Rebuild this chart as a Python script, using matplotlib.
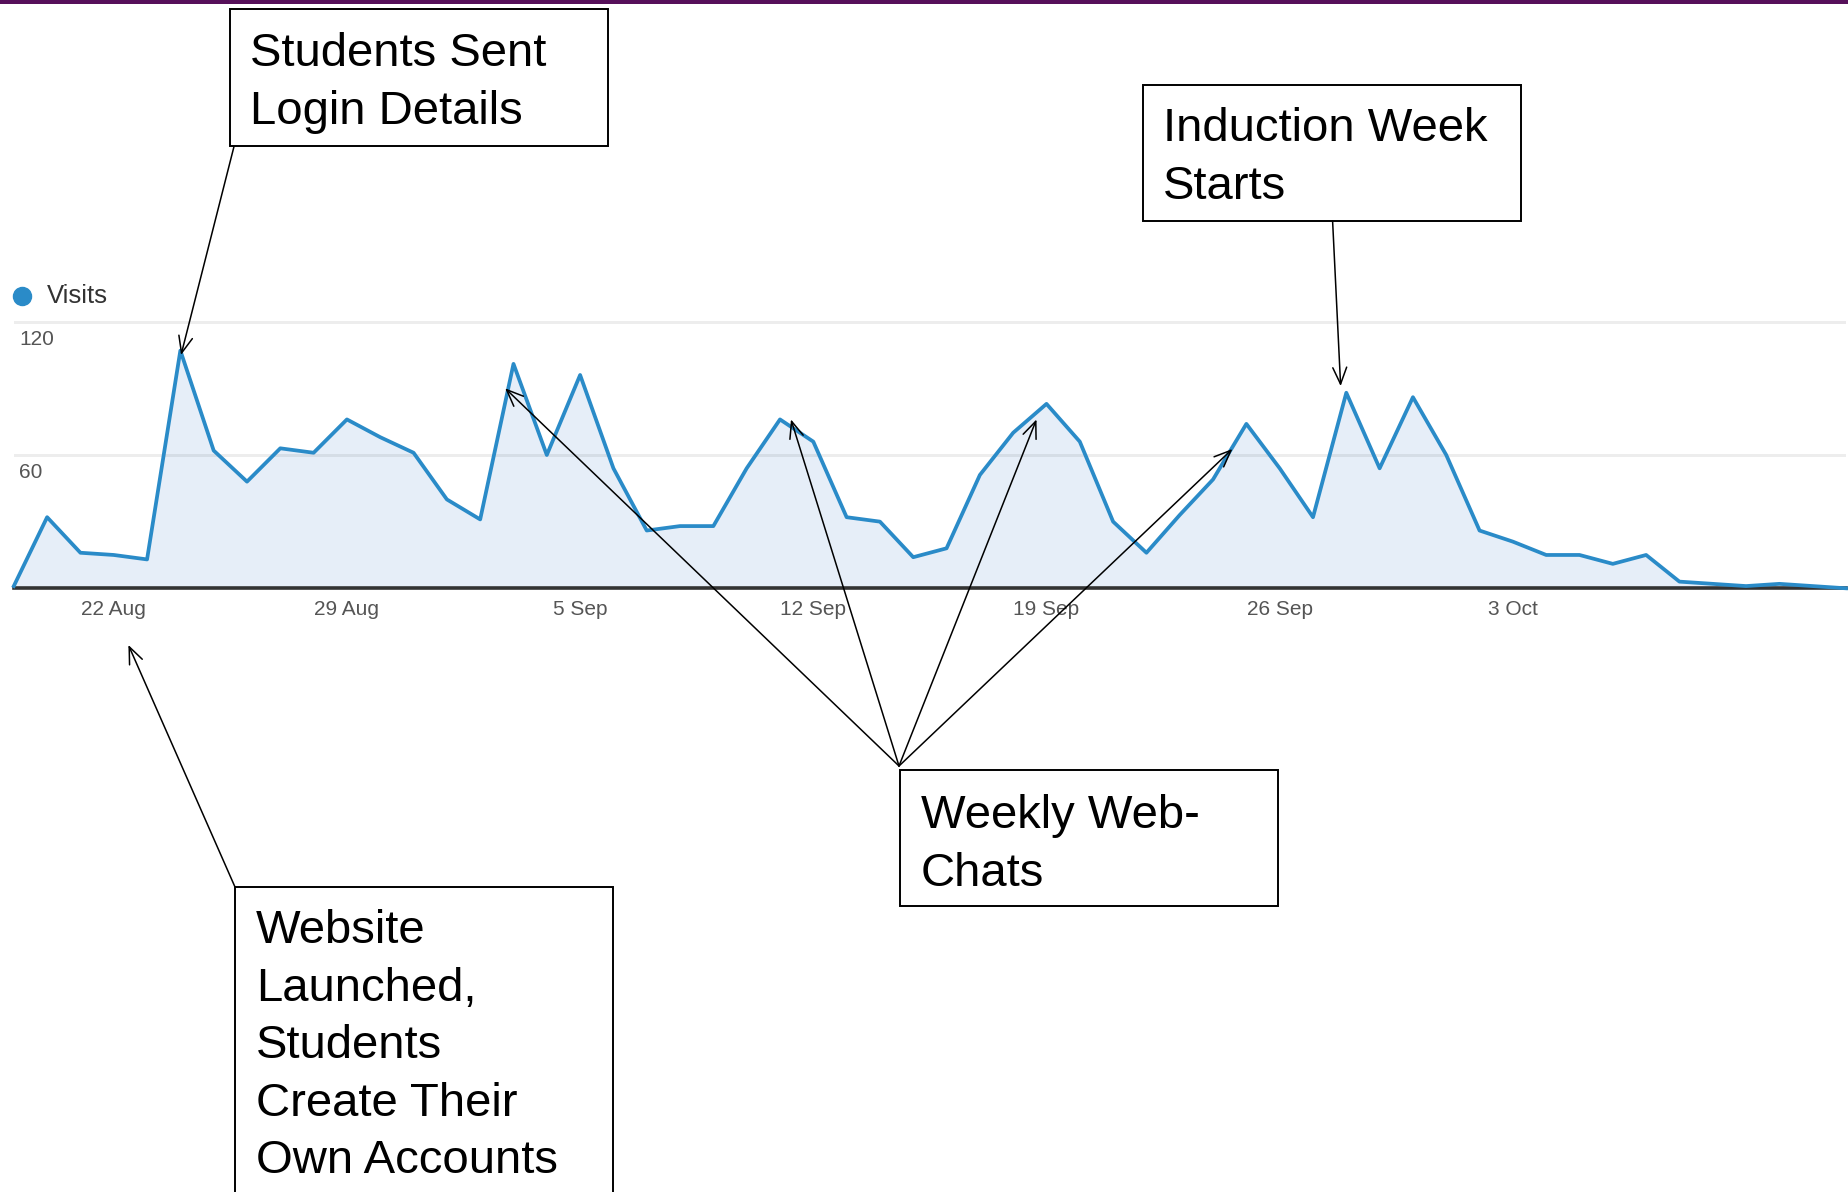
import matplotlib
matplotlib.use("Agg")
import matplotlib.pyplot as plt
import matplotlib.dates as mdates
from matplotlib.patches import Rectangle
from matplotlib.lines import Line2D
import pandas as pd

plt.rcParams['font.family'] = ['Liberation Sans', 'DejaVu Sans']

# daily visits, 19 Aug -> 13 Oct
visits = [1, 32, 16, 15, 13, 107, 62, 48, 63, 61,
          76, 68, 61, 40, 31, 101, 60, 96, 54, 26,
          28, 28, 54, 76, 66, 32, 30, 14, 18, 51,
          70, 83, 66, 30, 16, 33, 49, 74, 54, 32,
          88, 54, 86, 60, 26, 21, 15, 15, 11, 15,
          3, 2, 1, 2, 1, 0]
start_date = '2011-08-19'
dates = pd.date_range(start_date, periods=len(visits), freq='D')

tick_labels = ['22 Aug', '29 Aug', '5 Sep', '12 Sep', '19 Sep', '26 Sep', '3 Oct']
tick_dates = pd.to_datetime([t + ' 2011' for t in tick_labels], format='%d %b %Y')
grid_values = [60, 120]

line_color = '#2a8bc8'
fill_color = '#e6eef8'

W, H = 1849, 1192
fig = plt.figure(figsize=(W / 100, H / 100), dpi=100)

# main chart, placed in pixels
x0, x1 = 13.8, 1846
y_base, px_per = 588.3, 2.222
ymax = 130
ax = fig.add_axes([x0 / W, 1 - y_base / H, (x1 - x0) / W, ymax * px_per / H])
ax.fill_between(dates, visits, color=fill_color, lw=0, zorder=1)
for g in grid_values:
    ax.axhline(g, color='black', alpha=0.07, lw=2.2, zorder=2)
    ax.annotate(str(g), xy=(0, g), xycoords=('axes fraction', 'data'),
                xytext=(3.7, -12.5), textcoords='offset points',
                ha='left', va='center', fontsize=15, color='#555555')
ax.axhline(0, color='#333333', lw=2.6, zorder=3, clip_on=False)
ax.plot(dates, visits, color=line_color, lw=2.7, zorder=4,
        solid_joinstyle='round', clip_on=False)

ax.set_xlim(dates[0], dates[-1])
ax.set_ylim(0, ymax)
ax.set_xticks(tick_dates)
ax.set_xticklabels(tick_labels)
ax.set_yticks([])
ax.tick_params(axis='x', length=0, pad=8.5, labelsize=15, labelcolor='#555555')
for s in ax.spines.values():
    s.set_visible(False)
ax.patch.set_alpha(0)

# legend dot + label
fig.add_artist(Line2D([22 / W], [1 - 296 / H], marker='o', markersize=13,
                      color=line_color, transform=fig.transFigure))
fig.text(47 / W, 1 - 296 / H, 'Visits', fontsize=18.5, color='#333333', va='center')

# purple strip at top
fig.add_artist(Rectangle((0, 1 - 4 / H), 1, 4 / H, transform=fig.transFigure,
                         facecolor='#56105a', edgecolor='none'))

# overlay in pixel coords for the call-out boxes
ov = fig.add_axes([0, 0, 1, 1], zorder=5)
ov.set_xlim(0, W)
ov.set_ylim(H, 0)
ov.axis('off')
ov.patch.set_alpha(0)

boxes = [
    # (left, top, right, bottom), text x, text top, text
    ((230, 9.4, 608, 146), 250, 32.5, 'Students Sent\nLogin Details'),
    ((1142.6, 85, 1521, 220.5), 1163, 107, 'Induction Week\nStarts'),
    ((900, 770, 1278, 906), 921, 794, 'Weekly Web-\nChats'),
    ((235, 887, 613, 1210), 256, 909,
     'Website\nLaunched,\nStudents\nCreate Their\nOwn Accounts'),
]
for (l, t, r, b), tx, ty, txt in boxes:
    ov.add_patch(Rectangle((l, t), r - l, b - t, facecolor='white',
                           edgecolor='black', lw=1.4, clip_on=False))
    ov.text(tx, ty, txt, fontsize=34, ha='left', va='top',
            linespacing=1.4, color='black')

d0 = mdates.date2num(dates[0])
arrows = [
    ((234, 146.5), (5.02, 105)),
    ((1332.6, 221), (39.83, 91)),
    ((899, 766), (14.75, 90)),
    ((899, 766), (23.33, 76)),
    ((899, 766), (30.7, 76)),
    ((899, 766), (36.58, 62.7)),
    ((235, 887), (3.44, -25.5)),
]
for (sx, sy), (dx, dy) in arrows:
    ov.annotate('', xy=(d0 + dx, dy), xycoords=ax.transData,
                xytext=(sx, sy), textcoords='data',
                arrowprops=dict(arrowstyle='->,head_length=1.2,head_width=0.5',
                                color='black', lw=1.1, shrinkA=0, shrinkB=0,
                                mutation_scale=10))

fig.savefig('out.png', dpi=100)
